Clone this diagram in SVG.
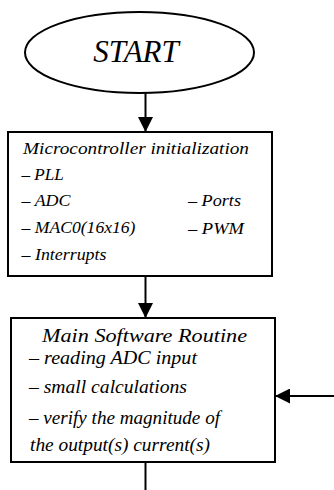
<svg xmlns="http://www.w3.org/2000/svg" width="334" height="490" viewBox="0 0 334 490">
<style>
.shape{fill:#fff;stroke:#000;stroke-width:2}
.con{stroke:#000;stroke-width:2;fill:none}
</style>
<defs>
<marker id="arr" markerWidth="15" markerHeight="15" refX="15" refY="7.5" orient="auto" markerUnits="userSpaceOnUse">
<path d="M0,0 L15,7.5 L0,15 Z" fill="#000"/>
</marker>
</defs>
<rect width="334" height="490" fill="#fff"/>
<g id="connectors">
<line class="con" x1="145.5" y1="93" x2="145.5" y2="132" marker-end="url(#arr)"/>
<line class="con" x1="145.5" y1="276" x2="145.5" y2="318" marker-end="url(#arr)"/>
<line class="con" x1="145.5" y1="462" x2="145.5" y2="490"/>
<line class="con" x1="334" y1="396" x2="275" y2="396" marker-end="url(#arr)"/>
</g>
<g id="start">
<ellipse class="shape" cx="139.5" cy="52.5" rx="114.5" ry="40.5"/>
<text style="font-family:'Liberation Serif',serif;font-style:italic;font-size:31px" x="136" y="62" text-anchor="middle">START</text>
</g>
<g id="init">
<rect class="shape" x="8" y="132" width="264" height="144"/>
<text style="font-family:'Liberation Serif',serif;font-style:italic;font-size:17.5px">
<tspan x="23" y="154" textLength="226" lengthAdjust="spacingAndGlyphs">Microcontroller  initialization</tspan>
<tspan x="21.5" y="180" textLength="42" lengthAdjust="spacingAndGlyphs">– PLL</tspan>
<tspan x="21.5" y="206" textLength="49" lengthAdjust="spacingAndGlyphs">– ADC</tspan>
<tspan x="21.5" y="233" textLength="114" lengthAdjust="spacingAndGlyphs">– MAC0(16x16)</tspan>
<tspan x="21.5" y="260" textLength="85" lengthAdjust="spacingAndGlyphs">– Interrupts</tspan>
<tspan x="188" y="206" textLength="53" lengthAdjust="spacingAndGlyphs">– Ports</tspan>
<tspan x="188" y="234" textLength="56" lengthAdjust="spacingAndGlyphs">– PWM</tspan>
</text>
</g>
<g id="main">
<rect class="shape" x="11" y="318" width="264" height="144"/>
<text style="font-family:'Liberation Serif',serif;font-style:italic;font-size:18px">
<tspan x="42" y="342" textLength="205" lengthAdjust="spacingAndGlyphs">Main Software Routine</tspan>
<tspan x="29" y="364" textLength="168" lengthAdjust="spacingAndGlyphs">– reading ADC input</tspan>
<tspan x="29" y="393" textLength="158" lengthAdjust="spacingAndGlyphs">– small calculations</tspan>
<tspan x="29" y="424" textLength="191" lengthAdjust="spacingAndGlyphs">– verify the magnitude of</tspan>
<tspan x="30" y="451" textLength="180" lengthAdjust="spacingAndGlyphs">the output(s) current(s)</tspan>
</text>
</g>
</svg>
